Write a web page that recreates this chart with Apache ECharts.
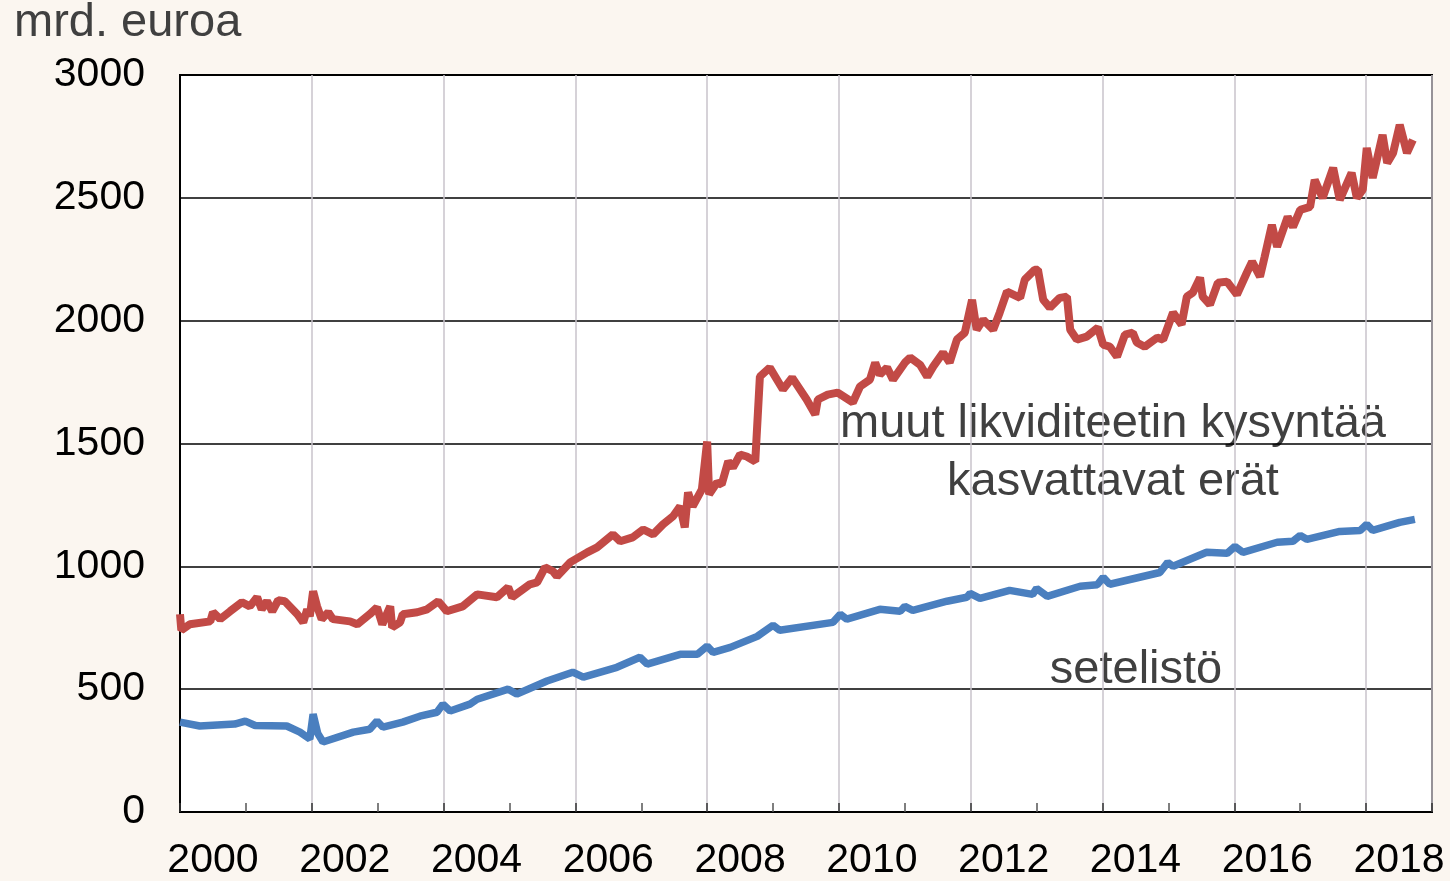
<!DOCTYPE html>
<html>
<head>
<meta charset="utf-8">
<script src="https://cdn.jsdelivr.net/npm/echarts@6/dist/echarts.min.js"></script>
<style>
  html, body { margin: 0; padding: 0; background: #FBF6F0; }
  #chart { width: 1450px; height: 881px; }
</style>
</head>
<body>
<div id="chart"></div>
<script>
// vuosi (desimaali) ja arvo, mrd. euroa
var muutYears = [2000.00, 2000.02, 2000.15, 2000.46, 2000.50, 2000.61, 2000.76, 2000.94, 2001.06, 2001.17, 2001.24, 2001.32, 2001.40, 2001.49, 2001.59, 2001.78, 2001.87, 2001.93, 2001.97, 2002.02, 2002.08, 2002.15, 2002.25, 2002.32, 2002.58, 2002.69, 2002.88, 2002.99, 2003.07, 2003.19, 2003.22, 2003.34, 2003.38, 2003.60, 2003.75, 2003.92, 2004.05, 2004.29, 2004.51, 2004.81, 2004.98, 2005.04, 2005.31, 2005.42, 2005.54, 2005.66, 2005.72, 2005.92, 2006.18, 2006.33, 2006.57, 2006.68, 2006.87, 2007.03, 2007.18, 2007.33, 2007.48, 2007.59, 2007.66, 2007.71, 2007.78, 2007.92, 2008.00, 2008.03, 2008.15, 2008.22, 2008.32, 2008.39, 2008.50, 2008.60, 2008.73, 2008.80, 2008.95, 2009.15, 2009.29, 2009.51, 2009.64, 2009.68, 2009.83, 2009.98, 2010.21, 2010.32, 2010.47, 2010.55, 2010.62, 2010.73, 2010.82, 2011.00, 2011.08, 2011.23, 2011.34, 2011.43, 2011.58, 2011.68, 2011.79, 2011.91, 2012.02, 2012.09, 2012.19, 2012.34, 2012.44, 2012.55, 2012.75, 2012.82, 2012.97, 2013.02, 2013.10, 2013.20, 2013.35, 2013.46, 2013.51, 2013.61, 2013.76, 2013.93, 2014.01, 2014.11, 2014.22, 2014.34, 2014.46, 2014.52, 2014.64, 2014.83, 2014.92, 2015.07, 2015.20, 2015.28, 2015.37, 2015.48, 2015.52, 2015.63, 2015.75, 2015.89, 2016.04, 2016.19, 2016.27, 2016.39, 2016.46, 2016.57, 2016.65, 2016.81, 2016.89, 2017.00, 2017.15, 2017.22, 2017.34, 2017.50, 2017.60, 2017.78, 2017.86, 2017.95, 2018.01, 2018.10, 2018.25, 2018.32, 2018.41, 2018.51, 2018.62, 2018.71];
var muutValues = [805, 740, 764, 776, 813, 785, 817, 854, 837, 874, 825, 858, 817, 862, 858, 805, 772, 825, 797, 898, 837, 785, 813, 785, 776, 764, 805, 833, 764, 837, 752, 772, 805, 813, 825, 858, 817, 837, 886, 874, 915, 874, 927, 935, 996, 980, 959, 1016, 1057, 1077, 1130, 1102, 1118, 1150, 1130, 1171, 1203, 1244, 1159, 1301, 1244, 1313, 1508, 1293, 1341, 1333, 1427, 1402, 1455, 1447, 1427, 1772, 1809, 1720, 1768, 1679, 1618, 1679, 1699, 1707, 1667, 1732, 1760, 1829, 1780, 1809, 1760, 1829, 1850, 1821, 1772, 1813, 1870, 1829, 1923, 1951, 2085, 1963, 2004, 1963, 2033, 2118, 2093, 2167, 2207, 2207, 2085, 2053, 2093, 2098, 1963, 1923, 1935, 1972, 1902, 1894, 1854, 1943, 1951, 1911, 1894, 1931, 1923, 2033, 1984, 2098, 2114, 2175, 2098, 2065, 2154, 2159, 2106, 2195, 2240, 2179, 2260, 2390, 2301, 2423, 2382, 2451, 2463, 2573, 2500, 2622, 2492, 2602, 2500, 2533, 2703, 2581, 2756, 2642, 2683, 2797, 2683, 2736];

var seteliYears = [2000.00, 2000.30, 2000.83, 2000.99, 2001.14, 2001.62, 2001.82, 2001.97, 2002.02, 2002.09, 2002.17, 2002.63, 2002.88, 2002.99, 2003.08, 2003.38, 2003.64, 2003.90, 2003.99, 2004.10, 2004.40, 2004.51, 2004.98, 2005.11, 2005.57, 2005.96, 2006.12, 2006.63, 2006.98, 2007.09, 2007.59, 2007.85, 2008.00, 2008.09, 2008.35, 2008.76, 2009.00, 2009.10, 2009.91, 2010.02, 2010.12, 2010.62, 2010.93, 2011.00, 2011.12, 2011.64, 2011.94, 2011.99, 2012.14, 2012.59, 2012.94, 2013.00, 2013.16, 2013.66, 2013.92, 2014.01, 2014.11, 2014.87, 2014.99, 2015.07, 2015.58, 2015.89, 2016.01, 2016.13, 2016.65, 2016.89, 2017.00, 2017.10, 2017.60, 2017.91, 2018.01, 2018.10, 2018.51, 2018.74];
var seteliValues = [366, 350, 358, 370, 352, 350, 325, 297, 398, 320, 285, 325, 337, 370, 345, 366, 390, 406, 439, 411, 439, 459, 500, 480, 533, 569, 549, 589, 630, 602, 642, 642, 675, 650, 670, 715, 760, 740, 772, 805, 785, 825, 817, 837, 821, 858, 874, 890, 870, 902, 886, 910, 878, 919, 925, 955, 927, 975, 1016, 1000, 1057, 1053, 1081, 1057, 1098, 1102, 1126, 1110, 1142, 1146, 1171, 1146, 1179, 1191];

var yearLabels = [2000, 2002, 2004, 2006, 2008, 2010, 2012, 2014, 2016, 2018];

function pairs(xs, ys) {
  return xs.map(function (x, i) { return [x, ys[i]]; });
}

var font = "'Liberation Sans', Arial, sans-serif";
var chart = echarts.init(document.getElementById('chart'));

chart.setOption({
  backgroundColor: '#FBF6F0',
  animation: false,
  grid: {
    left: 180, right: 18, top: 75, bottom: 68,
    show: true, backgroundColor: '#fff',
    borderColor: '#000', borderWidth: 2
  },
  xAxis: {
    type: 'value',
    min: 2000, max: 2019, interval: 2,
    axisLine: { lineStyle: { color: '#000', width: 2 } },
    axisTick: { show: true, inside: true, length: 9, lineStyle: { color: '#333', width: 1.5 } },
    minorTick: { show: true, splitNumber: 2, length: 9, lineStyle: { color: '#555', width: 1.5 } },
    splitLine: { show: true, lineStyle: { color: '#C9C3CB', width: 1.5 } },
    axisLabel: {
      customValues: yearLabels.map(function (y) { return y + 0.5; }),
      formatter: function (v) { return String(Math.floor(v)); },
      color: '#000', fontSize: 41, fontFamily: font, margin: 28
    }
  },
  yAxis: {
    type: 'value',
    min: 0, max: 3000, interval: 500,
    axisLine: { show: true, lineStyle: { color: '#000', width: 2 } },
    axisTick: { show: false },
    splitLine: { lineStyle: { color: '#000', width: 1.5 } },
    axisLabel: {
      formatter: function (v) { return String(v); },
      color: '#000', fontSize: 41, fontFamily: font, margin: 35
    }
  },
  series: [
    {
      name: 'muut likviditeetin kysyntää kasvattavat erät',
      type: 'line',
      data: pairs(muutYears, muutValues),
      showSymbol: false,
      lineStyle: { color: '#C24A46', width: 8 },
      itemStyle: { color: '#C24A46' }
    },
    {
      name: 'setelistö',
      type: 'line',
      data: pairs(seteliYears, seteliValues),
      showSymbol: false,
      lineStyle: { color: '#4A7FBF', width: 7.5 },
      itemStyle: { color: '#4A7FBF' }
    }
  ],
  graphic: [
    {
      type: 'text', left: 14, top: 0,
      style: { text: 'mrd. euroa', fill: '#404040', font: '47px ' + font }
    },
    {
      type: 'text', x: 1113, y: 424,
      style: { text: 'muut likviditeetin kysyntää', fill: '#404040', font: '47px ' + font, align: 'center', verticalAlign: 'middle' }
    },
    {
      type: 'text', x: 1113, y: 482,
      style: { text: 'kasvattavat erät', fill: '#404040', font: '47px ' + font, align: 'center', verticalAlign: 'middle' }
    },
    {
      type: 'text', x: 1136, y: 670,
      style: { text: 'setelistö', fill: '#404040', font: '47px ' + font, align: 'center', verticalAlign: 'middle' }
    }
  ]
});

window.onresize = function () {
  chart.resize();
};
</script>
</body>
</html>
